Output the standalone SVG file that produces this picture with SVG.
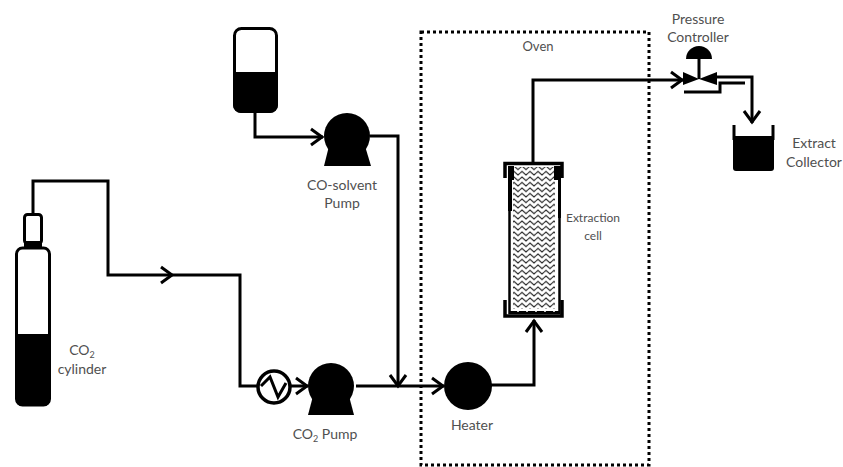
<svg xmlns="http://www.w3.org/2000/svg" width="843" height="467" viewBox="0 0 843 467">
<style>
.c{fill:none;stroke:#000;stroke-width:3}
.a{marker-end:url(#arrow)}
.o{fill:none;stroke:#000;stroke-width:3.500}
.k{fill:#000}
text{font-family:"Lato","Open Sans","Liberation Sans",sans-serif;font-size:14px;fill:#505050;text-anchor:middle}
tspan.s{font-size:9px}
</style>
<defs>
<marker id="arrow" markerUnits="userSpaceOnUse" markerWidth="18" markerHeight="22" refX="15" refY="11" orient="auto">
<path d="M3 3 L14 11 L3 19" fill="none" stroke="#000" stroke-width="3"/>
</marker>
<pattern id="wave" patternUnits="userSpaceOnUse" width="8" height="5.500">
<rect width="8" height="5.500" fill="#fff"/>
<path d="M0 2.750 L2 1 L6 4.500 L8 2.750" fill="none" stroke="#1a1a1a" stroke-width="1.100"/>
</pattern>
</defs>
<g id="oven"><rect x="421" y="32" width="228" height="433" fill="none" stroke="#000" stroke-width="3" stroke-dasharray="3 3"/><text x="538" y="51" style="font-size:13px">Oven</text></g>
<g id="connectors">
<path class="c a" d="M33 214V181H108V275H173"/>
<path class="c" d="M173 275H240V386H258"/>
<path class="c a" d="M291 386H308"/>
<path class="c a" d="M255 112V137H323"/>
<path class="c a" d="M370 136H398V387"/>
<path class="c a" d="M356 386H444"/>
<path class="c a" d="M490 385H534V320"/>
<path class="c a" d="M533 162V80H683"/>
<path class="c a" d="M717 77H752V123"/>
<path class="c" d="M684 92H720V83H745"/>
</g>
<g id="cylinder"><rect x="16.500" y="248" width="33" height="157" rx="6" fill="#fff" stroke="#000" stroke-width="3"/><path class="k" d="M16 334H50V400a6 6 0 0 1-6 6H22a6 6 0 0 1-6-6Z"/><rect x="24.500" y="214.500" width="17" height="29" rx="3" fill="#fff" stroke="#000" stroke-width="3"/><rect class="k" x="24" y="241" width="18" height="7"/><text x="82" y="355">CO<tspan class="s" dy="3">2</tspan></text><text x="82" y="374">cylinder</text></g>
<g id="reservoir"><rect x="234.500" y="28.500" width="42" height="83" rx="7" fill="#fff" stroke="#000" stroke-width="3"/><path class="k" d="M233 72H278V105a8 8 0 0 1-8 8H241a8 8 0 0 1-8-8Z"/></g>
<g id="filter"><circle cx="274" cy="387" r="16" fill="#fff" stroke="#000" stroke-width="3.500"/><path d="M261 386L270 377L278 397L286 383" fill="none" stroke="#000" stroke-width="3"/></g>
<g id="co2-pump"><circle class="k" cx="331" cy="386" r="23"/><path class="k" d="M313 396L308 415H354L349 396Z"/><text x="325" y="439">CO<tspan class="s" dy="3">2</tspan><tspan dy="-3"> Pump</tspan></text></g>
<g id="cosolvent-pump"><circle class="k" cx="347" cy="136" r="23"/><path class="k" d="M329 146L324 166H371L365 146Z"/><text x="342" y="190">CO-solvent</text><text x="342" y="208">Pump</text></g>
<g id="heater"><circle class="k" cx="468" cy="386" r="24"/><text x="472" y="430">Heater</text></g>
<g id="extraction-cell">
<rect x="513" y="167" width="42" height="142" fill="url(#wave)"/>
<path class="k" d="M508 166H514V180H512V211H508ZM554 166H561V218H558V180H554Z"/>
<path d="M509.500 166V313H559.500V166" fill="none" stroke="#000" stroke-width="2.500"/>
<path d="M510 312.500H559" fill="none" stroke="#000" stroke-width="3" stroke-dasharray="7 2"/>
<path class="o" d="M505 178V163.500H562V178"/>
<path class="o" d="M505 300V316H562V300"/>
<text x="593" y="222" style="font-size:12px">Extraction</text><text x="593" y="240" style="font-size:12px">cell</text></g>
<g id="pressure-controller">
<path class="k" d="M686 59a13 13 0 0 1 26 0Z"/><path class="c" d="M699 59V79"/>
<path class="k" d="M683 72L699 79L683 85ZM717 72L699 79L717 85Z"/>
<text x="698" y="24">Pressure</text><text x="698" y="42">Controller</text></g>
<g id="extract-collector"><path class="k" d="M733 136H774V168a3 3 0 0 1-3 3H736a3 3 0 0 1-3-3Z"/><path class="c" d="M734 125V140M773 125V140"/><text x="814" y="148">Extract</text><text x="814" y="167">Collector</text></g>
</svg>
